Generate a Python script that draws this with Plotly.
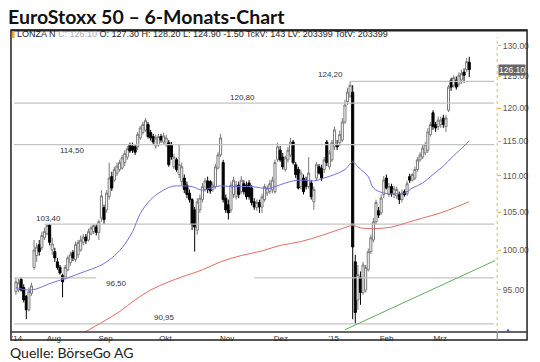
import numpy as np
import plotly.graph_objects as go

# ---------------- data ----------------
OPEN = [
    94.8, 95.0, 96.3, 95.3, 94.2, 92.6, 94.6, 97.8, 99.3, 100.7,
    100.3, 101.6, 102.1, 103.3, 100.0, 99.8, 98.5, 97.8, 96.8, 96.6,
    97.5, 98.4, 99.7, 98.8, 99.4, 100.0, 101.0, 101.7, 101.3, 102.1,
    102.4, 103.0, 102.3, 104.2, 105.6, 105.3, 107.1, 109.9, 109.4, 110.4,
    110.9, 111.1, 111.9, 112.7, 114.5, 114.3, 114.2, 114.2, 115.5, 116.3,
    116.7, 117.5, 116.3, 115.7, 114.3, 114.5, 115.7, 114.9, 114.5, 114.8,
    114.5, 111.3, 112.3, 110.2, 109.2, 109.7, 108.7, 107.6, 106.7, 105.3,
    102.6, 105.3, 106.7, 108.1, 109.3, 109.2, 108.1, 108.5, 111.1, 113.0,
    111.9, 106.9, 106.0, 105.3, 107.4, 107.1, 108.7, 107.8, 108.9, 108.7,
    109.0, 108.3, 106.4, 105.6, 106.3, 105.7, 106.7, 107.6, 107.8, 108.1,
    107.8, 112.3, 113.7, 112.7, 110.9, 112.3, 113.0, 114.9, 111.6, 110.9,
    108.5, 109.7, 109.4, 108.5, 109.0, 106.4, 109.7, 111.3, 111.1, 110.9,
    114.9, 111.3, 112.3, 114.2, 114.5, 114.8, 115.2, 117.9, 121.0, 121.9,
    122.5, 98.5, 93.8, 96.6, 94.7, 95.0, 97.5, 99.8, 101.3, 103.7,
    105.2, 104.9, 107.4, 109.7, 107.4, 108.5, 107.4, 107.2, 107.4, 106.7,
    107.8, 107.5, 109.9, 109.4, 109.7, 110.9, 112.3, 112.7, 113.3, 113.7,
    116.0, 119.3, 117.5, 117.2, 117.5, 118.5, 117.2, 119.7, 124.4, 123.6,
    124.4, 123.8, 124.4, 125.7, 126.1, 127.3]
HIGH = [
    96.5, 96.4, 96.6, 95.7, 94.4, 95.3, 95.9, 101.3, 100.9, 101.3,
    102.4, 102.9, 103.4, 103.4, 101.6, 100.3, 99.0, 98.1, 97.0, 98.1,
    99.3, 99.8, 100.0, 101.1, 101.3, 101.9, 102.1, 102.1, 102.8, 103.2,
    103.4, 103.4, 104.0, 108.0, 106.0, 108.0, 111.9, 110.6, 111.3, 111.9,
    112.3, 113.0, 113.7, 114.3, 114.8, 114.8, 114.5, 116.4, 117.3, 117.9,
    118.5, 117.9, 116.7, 116.1, 116.0, 116.1, 116.1, 116.3, 116.0, 115.2,
    114.9, 113.2, 112.6, 114.5, 111.9, 110.2, 109.2, 108.1, 106.9, 105.7,
    106.9, 107.4, 109.0, 109.7, 109.9, 109.4, 109.2, 111.7, 113.4, 116.1,
    112.3, 107.4, 106.7, 109.2, 109.9, 109.3, 109.2, 110.0, 109.4, 109.2,
    109.4, 108.7, 106.9, 106.7, 106.7, 107.5, 108.9, 108.7, 109.4, 109.9,
    112.3, 114.8, 114.3, 113.3, 112.9, 114.2, 115.5, 115.2, 112.0, 111.3,
    110.9, 110.2, 109.9, 112.7, 109.4, 108.5, 112.0, 111.7, 111.6, 112.7,
    115.2, 113.7, 115.2, 117.2, 115.2, 116.6, 118.5, 121.3, 123.2, 124.2,
    123.6, 99.4, 98.1, 97.3, 98.5, 98.1, 100.2, 102.0, 104.2, 106.7,
    105.7, 107.4, 110.0, 110.2, 109.0, 108.9, 108.6, 108.5, 107.8, 108.1,
    108.1, 109.3, 110.3, 110.4, 111.3, 112.7, 113.4, 114.5, 114.9, 117.0,
    117.9, 119.7, 117.9, 118.7, 118.7, 119.0, 119.0, 123.6, 124.8, 125.2,
    125.0, 125.7, 126.1, 126.3, 128.0, 128.2]
LOW = [
    94.4, 94.7, 94.8, 93.5, 91.5, 92.4, 94.3, 97.5, 98.5, 99.3,
    100.0, 101.3, 101.9, 100.6, 99.4, 98.5, 97.5, 96.9, 94.1, 96.3,
    97.3, 98.0, 98.6, 98.5, 99.0, 99.8, 100.6, 100.8, 101.1, 101.9,
    102.1, 101.9, 101.3, 103.7, 103.4, 104.9, 106.7, 107.9, 109.2, 110.0,
    110.6, 110.9, 111.4, 112.3, 113.3, 113.3, 113.0, 113.7, 115.2, 116.0,
    116.4, 115.4, 115.1, 114.5, 113.9, 114.2, 114.8, 114.6, 114.2, 111.3,
    112.3, 111.0, 110.6, 109.7, 108.7, 107.6, 106.9, 106.3, 102.6, 99.8,
    102.0, 104.9, 106.3, 107.8, 107.6, 107.5, 107.8, 108.2, 110.9, 112.7,
    106.3, 104.9, 104.0, 104.9, 106.9, 106.7, 106.9, 107.5, 107.4, 106.7,
    106.7, 105.9, 105.3, 105.2, 104.9, 104.9, 106.4, 107.2, 107.5, 107.6,
    107.5, 112.0, 112.0, 110.9, 110.6, 111.9, 112.7, 111.6, 109.7, 108.1,
    108.1, 107.4, 108.1, 108.2, 106.7, 105.3, 109.3, 110.2, 109.3, 110.4,
    111.4, 110.9, 112.0, 113.7, 113.7, 114.3, 114.9, 117.6, 120.5, 121.6,
    91.5, 90.95, 92.6, 93.2, 94.4, 94.7, 97.3, 99.5, 101.0, 103.3,
    104.2, 104.6, 106.9, 108.1, 107.1, 107.1, 106.9, 106.8, 106.1, 106.3,
    107.1, 107.2, 109.0, 109.2, 109.4, 110.6, 112.0, 112.4, 113.0, 113.3,
    115.7, 116.7, 116.4, 116.7, 117.0, 117.0, 116.4, 119.4, 122.7, 123.2,
    122.9, 123.3, 123.8, 124.0, 125.7, 124.9]
CLOSE = [
    96.0, 95.9, 95.0, 93.8, 92.6, 94.8, 95.5, 100.0, 100.4, 99.8,
    101.9, 102.4, 103.2, 101.0, 100.8, 99.0, 97.8, 97.1, 96.0, 97.8,
    99.0, 99.4, 99.0, 100.7, 101.0, 101.3, 101.7, 101.2, 102.4, 102.9,
    103.2, 102.3, 103.7, 107.2, 104.0, 107.6, 109.7, 108.3, 110.9, 111.4,
    111.9, 112.6, 113.2, 113.9, 113.6, 113.7, 113.4, 116.0, 117.0, 117.5,
    118.1, 115.7, 115.5, 114.9, 115.5, 115.7, 115.2, 115.8, 115.5, 111.6,
    112.7, 112.7, 110.9, 111.6, 111.3, 108.1, 107.4, 106.7, 103.3, 103.0,
    106.4, 106.9, 108.5, 109.3, 108.1, 107.9, 108.7, 111.3, 113.0, 115.5,
    106.7, 105.3, 104.9, 108.7, 109.4, 108.7, 107.4, 109.4, 107.8, 107.1,
    107.1, 106.3, 105.7, 106.3, 105.7, 107.1, 108.5, 108.3, 108.9, 109.4,
    111.9, 114.2, 112.3, 111.3, 112.6, 113.7, 114.9, 111.9, 110.2, 108.3,
    110.4, 107.8, 108.5, 110.4, 107.1, 108.1, 111.6, 110.4, 109.7, 112.3,
    111.9, 113.3, 114.8, 116.7, 114.2, 116.0, 117.9, 120.5, 122.5, 123.6,
    100.4, 92.3, 96.9, 94.7, 98.1, 97.8, 99.8, 101.6, 103.7, 106.3,
    104.6, 106.9, 109.4, 108.3, 108.5, 107.5, 108.2, 108.1, 106.7, 107.6,
    107.4, 108.9, 109.4, 110.2, 110.9, 112.3, 113.0, 114.0, 114.5, 116.4,
    117.5, 117.2, 117.0, 118.2, 118.2, 117.5, 118.5, 123.3, 123.3, 124.8,
    123.3, 125.2, 125.5, 125.2, 127.4, 126.1]
DAY = list(range(len(CLOSE)))  # trading-day index

MONTH_LABELS = ["'14", "Aug", "Sep", "Okt", "Nov", "Dez", "'15", "Feb", "Mrz"]
MONTH_POS = [0.4, 14.6, 34.6, 57.7, 81.5, 102.3, 122.7, 143.1, 163.8]

BLUE_IDX = [0, 6, 14, 20, 25, 33, 37, 41, 45, 48, 52, 56, 60, 64, 68, 72, 75, 79, 83, 87,
            91, 95, 97, 100, 104, 107, 111, 115, 119, 123, 127, 130, 132, 136, 138, 142,
            146, 150, 153, 157, 161, 165, 169, 173, 175]
BLUE_VAL = [95.3, 95.0, 95.9, 96.5, 97.1, 98.1, 99.0, 100.3, 102.4, 104.8, 106.7, 107.8,
            108.5, 108.6, 108.5, 108.0, 108.3, 108.6, 108.5, 108.5, 108.5, 108.3, 108.2,
            108.5, 109.0, 109.3, 109.4, 109.3, 109.7, 110.2, 110.9, 112.0, 111.3, 109.9,
            108.3, 107.6, 107.5, 107.6, 108.3, 109.0, 110.2, 111.4, 112.9, 114.3, 115.1]
RED_IDX = [26, 33, 40, 46, 52, 59, 64, 72, 79, 87, 95, 102, 110, 118, 125, 130, 133, 138,
           145, 151, 157, 164, 170, 175]
RED_VAL = [89.9, 91.1, 92.4, 93.8, 95.0, 96.0, 96.6, 97.5, 98.5, 99.3, 99.9, 100.6, 101.1,
           101.9, 102.7, 103.2, 102.9, 102.8, 103.0, 103.6, 104.2, 104.9, 105.7, 106.4]
GREEN_IDX = [127, 185]
GREEN_VAL = [90.27, 98.67]

# horizontal levels
LEVELS = [124.20, 120.80, 114.50, 103.40, 96.50, 96.50, 90.95]
LEVEL_FROM = [129, -0.8, -0.8, 11, -0.8, 92, -0.8]
LEVEL_TO = [184.6, 184.6, 184.6, 184.6, 31, 184.6, 184.6]
LABELS = ["124,20", "120,80", "114,50", "103,40", "96,50", "90,95"]
LABEL_PRICE = [124.20, 120.80, 114.50, 103.40, 96.50, 90.95]
LABEL_IDX = [121.5, 87.3, 21.5, 12.7, 38.8, 57.3]
LABEL_SHIFT = [7, 6, -6, 6, -6, 6]

YTICKS = [95, 100, 105, 110, 115, 120, 125, 130]

W, H = 540, 362
def fx(x):
    return x / W
def fy(y):
    return 1 - y / H

fig = go.Figure()

for p, a, b in zip(LEVELS, LEVEL_FROM, LEVEL_TO):
    fig.add_trace(go.Scatter(x=[a, b], y=[p, p], mode="lines",
                             line=dict(color="#c4c4c4", width=1.3), hoverinfo="skip"))

fig.add_trace(go.Scatter(x=GREEN_IDX, y=GREEN_VAL, mode="lines",
                         line=dict(color="#5fae5f", width=1), hoverinfo="skip"))
fig.add_trace(go.Scatter(x=RED_IDX, y=RED_VAL, mode="lines", line_shape="spline",
                         line=dict(color="#e36a6a", width=1), hoverinfo="skip"))
fig.add_trace(go.Scatter(x=BLUE_IDX, y=BLUE_VAL, mode="lines", line_shape="spline",
                         line=dict(color="#6f6fe0", width=1), hoverinfo="skip"))

fig.add_trace(go.Candlestick(
    x=DAY, open=OPEN, high=HIGH, low=LOW, close=CLOSE,
    increasing=dict(line=dict(color="#7a7a7a", width=1), fillcolor="#ffffff"),
    decreasing=dict(line=dict(color="#000000", width=1), fillcolor="#000000"),
    whiskerwidth=0))

fig.update_layout(
    width=W, height=H, margin=dict(l=0, r=0, t=0, b=0),
    paper_bgcolor="white", plot_bgcolor="white", showlegend=False,
    boxgap=0.2, boxgroupgap=0,
    xaxis=dict(domain=[fx(12), fx(497)], range=[-0.77, 185.77],
               showgrid=False, zeroline=False, showline=False,
               tickvals=MONTH_POS, ticktext=MONTH_LABELS, ticks="",
               tickfont=dict(size=8, color="#333", family="Arial"),
               rangeslider=dict(visible=False)),
    yaxis=dict(type="log", domain=[fy(332), fy(37)],
               range=[np.log10(90.007), np.log10(131.5)],
               side="right", showgrid=False, zeroline=False, showline=False,
               tickvals=YTICKS, ticktext=["%.2f" % v for v in YTICKS],
               ticks="outside", ticklen=3, tickcolor="#d9b44a",
               tickfont=dict(size=8.5, color="#555", family="Arial")),
)

shapes = [
    dict(type="rect", xref="paper", yref="paper", x0=fx(9), x1=fx(527), y0=fy(340), y1=fy(30),
         line=dict(color="#222", width=1.5)),
    dict(type="line", xref="paper", yref="paper", x0=fx(9), x1=fx(527), y0=fy(30.5), y1=fy(30.5),
         line=dict(color="#222", width=2)),
    dict(type="line", xref="paper", yref="paper", x0=fx(9), x1=fx(527), y0=fy(332), y1=fy(332),
         line=dict(color="#333", width=1.5)),
    dict(type="line", xref="paper", yref="paper", x0=fx(497), x1=fx(497), y0=fy(332), y1=fy(340),
         line=dict(color="#777", width=1)),
    dict(type="line", xref="paper", yref="paper", x0=fx(497), x1=fx(497), y0=fy(332), y1=fy(37),
         line=dict(color="#e2bf48", width=1, dash="dot")),
    dict(type="rect", xref="paper", yref="paper", x0=fx(10), x1=fx(12.5), y0=fy(38), y1=fy(31),
         fillcolor="#f2a22a", line=dict(width=0)),
]
fig.update_layout(shapes=shapes)

ann = []
for t, p, i, s in zip(LABELS, LABEL_PRICE, LABEL_IDX, LABEL_SHIFT):
    ann.append(dict(text=t, x=i, y=np.log10(p), xref="x", yref="y", showarrow=False,
                    yshift=s, font=dict(size=8, color="#333", family="Arial")))

header = ('<span style="color:#222">LONZA N </span>'
          '<span style="color:#aaaaaa">C: %.2f </span>'
          '<span style="color:#222">O: %.2f H: %.2f L: %.2f -1.50 TckV: 143 LV: 203399 TotV: 203399</span>'
          % (CLOSE[-1], OPEN[-1], HIGH[-1], LOW[-1]))
ann += [
    dict(text=header, x=fx(13), y=fy(34.5), xref="paper", yref="paper", xanchor="left",
         yanchor="middle", showarrow=False, font=dict(size=9, family="Arial")),
    dict(text="<b>EuroStoxx 50 – 6-Monats-Chart</b>", x=fx(4), y=fy(16), xref="paper",
         yref="paper", xanchor="left", yanchor="middle", showarrow=False,
         font=dict(size=19.5, color="#111", family="Lato")),
    dict(text="Quelle: BörseGo AG", x=fx(6), y=fy(352), xref="paper", yref="paper",
         xanchor="left", yanchor="middle", showarrow=False,
         font=dict(size=14, color="#222", family="Lato")),
    dict(text="%.2f" % CLOSE[-1], x=fx(498), y=np.log10(CLOSE[-1]), xref="paper", yref="y",
         xanchor="left", yanchor="middle", showarrow=False, bgcolor="#666666",
         borderpad=0, font=dict(size=8.5, color="white", family="Arial")),
    dict(text="▲", x=fx(513), y=fy(336), xref="paper", yref="paper", showarrow=False,
         font=dict(size=6, color="#3050a8")),
]
fig.update_layout(annotations=ann)

fig.write_html("out.html", config={"displayModeBar": False},
               post_script="document.body.style.margin='0';")
